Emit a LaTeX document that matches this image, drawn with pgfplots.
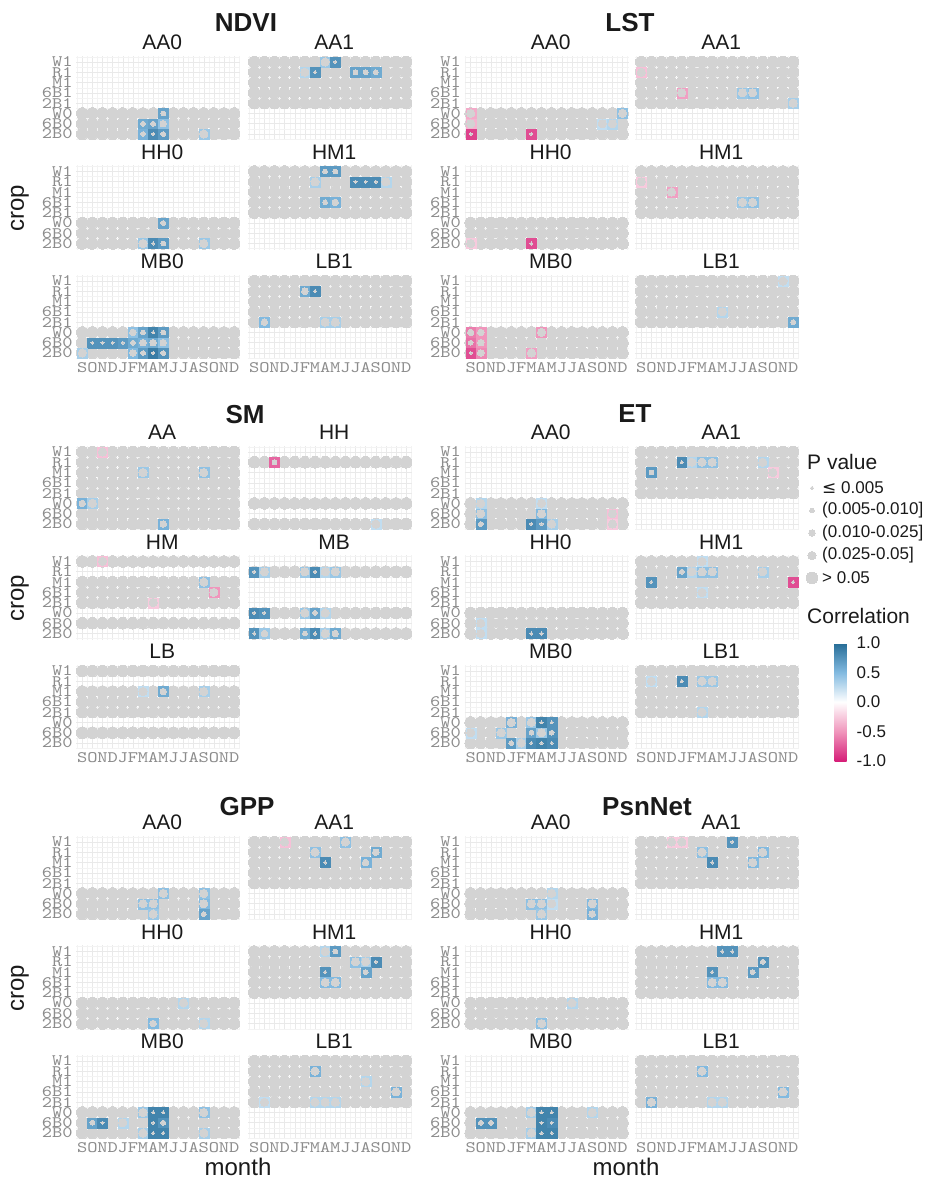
\documentclass[border=0pt]{standalone}
\usepackage{pgfplots}
\pgfplotsset{compat=1.18}
\usepackage{pgfplotstable}
\usepackage{fontspec}
\setmainfont{Liberation Sans}
\newfontfamily\dejavu{DejaVu Sans}
\newfontfamily\tickmono{lmmono10-regular.otf}[FakeStretch=1.22]
\definecolor{dotc}{RGB}{211,211,211}
\definecolor{gridmaj}{RGB}{233,233,233}
\definecolor{gridmin}{RGB}{243,243,243}
\definecolor{tickc}{RGB}{140,140,140}
\definecolor{titc}{RGB}{26,26,26}

\pgfplotsset{
  colormap={corr}{rgb255=(214,30,120) rgb255=(240,150,188) rgb255=(255,255,255) rgb255=(130,186,224) rgb255=(38,108,150)},
  panel/.style={
    scale only axis, width=164pt, height=84.4pt,
    xmin=0.4, xmax=16.6, ymin=0.4, ymax=8.6,
    axis line style={draw=none},
    major tick length=0pt, minor tick length=0pt, tick style={draw=none},
    xtick={1,...,16}, ytick={1,...,8},
    minor xtick={0.5,1.5,...,16.5}, minor ytick={0.5,1.5,...,8.5},
    grid=both,
    major grid style={line width=0.5pt, draw=gridmaj},
    minor grid style={line width=0.3pt, draw=gridmin},
    xticklabel={\empty}, yticklabel={\empty},
    colormap name=corr, point meta min=-1, point meta max=1,
    title style={at={(0.5,1)}, anchor=base, xshift=4pt, yshift=0pt, font=\fontsize{21}{21}\selectfont, text=titc, inner sep=0pt},
    yticklabel style={font=\fontsize{16}{16}\selectfont\tickmono, text=tickc, inner sep=0pt, xshift=-3.5pt},
    xticklabel style={font=\fontsize{16}{16}\selectfont\tickmono, text=tickc, inner sep=0pt, yshift=-3pt},
  },
  ylab/.style={yticklabels={2B0,6B0,W0,2B1,6B1,M1,R1,W1}},
  xlab/.style={xticklabels={S,O,N,D,J,F,M,A,M,J,J,A,S,O,N,D}},
  bigdot/.style={only marks, mark=*, mark size=5.8pt, color=dotc, mark options={draw=dotc, fill=dotc, line width=0pt}},
  tile/.style={scatter, only marks, mark=square*, mark size=5.0pt, point meta=\thisrow{r},
    scatter/use mapped color={draw=mapped color, fill=mapped color, line width=0.2pt}},
  smalldot/.style={scatter, only marks, mark=*, point meta=\thisrow{r}, color=dotc,
    scatter/use mapped color={draw=dotc, fill=dotc, line width=0pt},
    visualization depends on={0.7+0.85*\thisrow{p} \as \rad},
    scatter/@pre marker code/.append style={/tikz/mark size=\rad pt}},
}

\pgfplotstableread{
m k
1 0
2 0
3 0
4 0
5 0
6 0
7 0
8 0
9 0
10 0
11 0
12 0
13 0
14 0
15 0
16 0
}\monthtab

% ---------------- NDVI ----------------
\pgfplotstableread{
m y r p
9 3 0.65 2
7 2 0.60 2
8 2 0.65 2
9 2 0.45 3
7 1 0.55 2
8 1 0.80 1
9 1 0.70 2
13 1 0.40 4
}\tNa
\pgfplotstableread{
m y r p
8 8 0.40 4
9 8 0.75 1
6 7 0.30 4
7 7 0.75 1
11 7 0.65 2
12 7 0.65 2
13 7 0.60 2
}\tNb
\pgfplotstableread{
m y r p
9 3 0.65 2
7 1 0.40 4
8 1 0.80 1
9 1 0.70 2
13 1 0.40 4
}\tNc
\pgfplotstableread{
m y r p
8 8 0.70 2
9 8 0.70 2
7 7 0.35 4
11 7 0.80 1
12 7 0.80 1
13 7 0.80 1
14 7 0.30 4
8 5 0.60 2
9 5 0.55 3
}\tNd
\pgfplotstableread{
m y r p
6 3 0.45 3
7 3 0.65 2
8 3 0.85 1
9 3 0.70 2
2 2 0.75 1
3 2 0.75 1
4 2 0.75 1
5 2 0.70 1
6 2 0.60 2
7 2 0.55 3
8 2 0.60 3
9 2 0.45 3
1 1 0.35 4
6 1 0.50 3
7 1 0.70 2
8 1 0.90 1
9 1 0.75 2
}\tNe
\pgfplotstableread{
m y r p
6 7 0.60 3
7 7 0.80 1
2 4 0.50 3
8 4 0.35 4
9 4 0.35 4
}\tNf
% ---------------- LST ----------------
\pgfplotstableread{
m y r p
1 3 -0.40 4
16 3 0.45 4
1 2 -0.35 4
14 2 0.25 4
15 2 0.30 4
1 1 -0.85 1
7 1 -0.80 1
}\tLa
\pgfplotstableread{
m y r p
1 7 -0.30 4
5 5 -0.45 4
11 5 0.40 4
12 5 0.45 4
16 4 0.35 4
}\tLb
\pgfplotstableread{
m y r p
1 1 -0.25 4
7 1 -0.80 1
}\tLc
\pgfplotstableread{
m y r p
1 7 -0.25 4
4 6 -0.45 4
11 5 0.40 4
12 5 0.45 4
}\tLd
\pgfplotstableread{
m y r p
1 3 -0.60 3
2 3 -0.50 3
8 3 -0.50 4
1 2 -0.65 2
2 2 -0.50 3
1 1 -0.80 1
2 1 -0.55 3
7 1 -0.45 4
}\tLe
\pgfplotstableread{
m y r p
15 8 0.25 4
9 5 0.30 4
16 4 0.60 2
}\tLf
% ---------------- SM ----------------
\pgfplotstableread{
m y r p
3 8 -0.30 4
7 6 0.40 4
13 6 0.45 4
1 3 0.55 3
2 3 0.35 4
9 1 0.55 3
}\tSa
\pgfplotstableread{
m y r p
3 7 -0.70 2
13 1 0.25 4
}\tSb
\pgfplotstableread{
m y r p
3 8 -0.30 4
13 6 0.45 4
14 5 -0.50 4
8 4 -0.25 4
}\tSc
\pgfplotstableread{
m y r p
1 7 0.75 1
2 7 0.35 4
6 7 0.40 4
7 7 0.80 1
8 7 0.30 4
9 7 0.40 4
1 3 0.80 1
2 3 0.75 1
6 3 0.40 4
7 3 0.65 2
8 3 0.30 4
1 1 0.75 1
2 1 0.40 3
6 1 0.60 2
7 1 0.80 1
8 1 0.35 4
9 1 0.60 3
}\tSd
\pgfplotstableread{
m y r p
7 6 0.25 4
9 6 0.60 3
13 6 0.35 4
}\tSe
% ---------------- ET ----------------
\pgfplotstableread{
m y r p
2 3 0.30 4
8 3 0.25 4
2 2 0.45 4
8 2 0.50 4
15 2 -0.30 4
2 1 0.70 2
7 1 0.80 1
8 1 0.70 1
9 1 0.35 4
15 1 -0.25 4
}\tEa
\pgfplotstableread{
m y r p
5 7 0.80 1
6 7 0.30 4
7 7 0.45 4
8 7 0.45 4
13 7 0.30 4
2 6 0.70 2
14 6 -0.25 4
}\tEb
\pgfplotstableread{
m y r p
2 2 0.25 4
2 1 0.25 4
7 1 0.80 1
8 1 0.80 1
}\tEc
\pgfplotstableread{
m y r p
7 8 0.25 4
5 7 0.65 2
6 7 0.30 4
7 7 0.45 4
8 7 0.45 4
13 7 0.35 4
2 6 0.75 1
16 6 -0.80 1
7 5 0.25 4
}\tEd
\pgfplotstableread{
m y r p
5 3 0.55 4
7 3 0.40 4
8 3 0.85 1
9 3 0.75 1
1 2 0.25 4
4 2 0.40 4
7 2 0.65 2
8 2 0.40 4
9 2 0.75 2
5 1 0.70 2
6 1 0.35 4
7 1 0.80 1
8 1 0.85 1
9 1 0.80 1
}\tEe
\pgfplotstableread{
m y r p
2 7 0.25 4
5 7 0.80 1
7 7 0.40 4
8 7 0.40 4
7 4 0.30 4
}\tEf
% ---------------- GPP ----------------
\pgfplotstableread{
m y r p
9 3 0.45 4
13 3 0.45 4
7 2 0.45 4
8 2 0.45 4
13 2 0.50 4
8 1 0.40 4
13 1 0.65 2
}\tGa
\pgfplotstableread{
m y r p
4 8 -0.30 4
10 8 0.45 4
7 7 0.45 4
13 7 0.60 3
8 6 0.80 1
12 6 0.55 3
}\tGb
\pgfplotstableread{
m y r p
11 3 0.30 4
8 1 0.50 3
13 1 0.30 4
}\tGc
\pgfplotstableread{
m y r p
8 8 0.30 4
9 8 0.70 2
11 7 0.45 4
12 7 0.35 4
13 7 0.80 1
8 6 0.75 1
12 6 0.65 2
8 5 0.50 4
9 5 0.50 4
}\tGd
\pgfplotstableread{
m y r p
7 3 0.40 4
8 3 0.85 1
9 3 0.85 1
13 3 0.45 4
2 2 0.65 2
3 2 0.80 1
5 2 0.30 4
8 2 0.85 1
9 2 0.75 2
7 1 0.35 4
8 1 0.85 1
9 1 0.85 1
13 1 0.35 4
}\tGe
\pgfplotstableread{
m y r p
7 7 0.55 4
12 6 0.30 4
15 5 0.55 4
2 4 0.25 4
7 4 0.30 4
8 4 0.30 4
9 4 0.30 4
}\tGf
% ---------------- PsnNet ----------------
\pgfplotstableread{
m y r p
9 3 0.30 4
7 2 0.45 4
8 2 0.45 4
9 2 0.25 4
13 2 0.50 4
8 1 0.40 4
13 1 0.55 3
}\tPa
\pgfplotstableread{
m y r p
4 8 -0.25 4
5 8 -0.25 4
10 8 0.75 1
7 7 0.45 4
13 7 0.50 4
8 6 0.80 1
12 6 0.50 4
}\tPb
\pgfplotstableread{
m y r p
11 3 0.30 4
8 1 0.45 4
}\tPc
\pgfplotstableread{
m y r p
9 8 0.75 1
10 8 0.75 1
13 7 0.75 2
8 6 0.75 1
12 6 0.70 2
8 5 0.50 4
9 5 0.50 4
}\tPd
\pgfplotstableread{
m y r p
7 3 0.35 4
8 3 0.85 1
9 3 0.85 1
13 3 0.30 4
2 2 0.75 2
3 2 0.75 2
8 2 0.85 1
9 2 0.80 1
7 1 0.35 4
8 1 0.85 1
9 1 0.85 1
}\tPe
\pgfplotstableread{
m y r p
7 7 0.50 4
15 5 0.50 4
2 4 0.55 4
8 4 0.30 4
9 4 0.30 4
}\tPf

\pgfplotstableread{
x y rad
812 -488 1.55
812 -510.5 2.4
812 -533 3.25
812 -555.5 4.1
812 -578 5.8
}\tLegend

% #1 left x, #2 bottom y (downwards), #3 title, #4 options, #5 rows, #6 table
\newcommand{\panel}[6]{%
  \begin{axis}[panel, at={(#1pt,-#2pt)}, anchor=south west, title={#3}, #4]
    \pgfplotsinvokeforeach{#5}{\addplot[bigdot] table[x=m, y expr=##1] {\monthtab};}
    \addplot[tile] table[x=m, y=y] {#6};
    \addplot[smalldot] table[x=m, y=y] {#6};
  \end{axis}}

\begin{document}
\begin{tikzpicture}
% ===== block 0 =====
\panel{76.2}{140.17}{AA0}{ylab}{1,2,3}{\tNa}
\panel{248.2}{140.17}{AA1}{}{4,5,6,7,8}{\tNb}
\panel{76.2}{249.67}{HH0}{ylab}{1,2,3}{\tNc}
\panel{248.2}{249.67}{HM1}{}{4,5,6,7,8}{\tNd}
\panel{76.2}{359.17}{MB0}{ylab,xlab}{1,2,3}{\tNe}
\panel{248.2}{359.17}{LB1}{xlab}{4,5,6,7,8}{\tNf}
\panel{464.6}{140.17}{AA0}{ylab}{1,2,3}{\tLa}
\panel{635.2}{140.17}{AA1}{}{4,5,6,7,8}{\tLb}
\panel{464.6}{249.67}{HH0}{ylab}{1,2,3}{\tLc}
\panel{635.2}{249.67}{HM1}{}{4,5,6,7,8}{\tLd}
\panel{464.6}{359.17}{MB0}{ylab,xlab}{1,2,3}{\tLe}
\panel{635.2}{359.17}{LB1}{xlab}{4,5,6,7,8}{\tLf}
% ===== block 1 =====
\panel{76.2}{530.17}{AA}{ylab}{1,2,3,4,5,6,7,8}{\tSa}
\panel{248.2}{530.17}{HH}{}{1,3,7}{\tSb}
\panel{76.2}{639.67}{HM}{ylab}{2,4,5,6,8}{\tSc}
\panel{248.2}{639.67}{MB}{}{1,3,7}{\tSd}
\panel{76.2}{749.17}{LB}{ylab,xlab}{2,4,5,6,8}{\tSe}
\panel{464.6}{530.17}{AA0}{ylab}{1,2,3}{\tEa}
\panel{635.2}{530.17}{AA1}{}{4,5,6,7,8}{\tEb}
\panel{464.6}{639.67}{HH0}{ylab}{1,2,3}{\tEc}
\panel{635.2}{639.67}{HM1}{}{4,5,6,7,8}{\tEd}
\panel{464.6}{749.17}{MB0}{ylab,xlab}{1,2,3}{\tEe}
\panel{635.2}{749.17}{LB1}{xlab}{4,5,6,7,8}{\tEf}
% ===== block 2 =====
\panel{76.2}{920.17}{AA0}{ylab}{1,2,3}{\tGa}
\panel{248.2}{920.17}{AA1}{}{4,5,6,7,8}{\tGb}
\panel{76.2}{1029.67}{HH0}{ylab}{1,2,3}{\tGc}
\panel{248.2}{1029.67}{HM1}{}{4,5,6,7,8}{\tGd}
\panel{76.2}{1139.17}{MB0}{ylab,xlab}{1,2,3}{\tGe}
\panel{248.2}{1139.17}{LB1}{xlab}{4,5,6,7,8}{\tGf}
\panel{464.6}{920.17}{AA0}{ylab}{1,2,3}{\tPa}
\panel{635.2}{920.17}{AA1}{}{4,5,6,7,8}{\tPb}
\panel{464.6}{1029.67}{HH0}{ylab}{1,2,3}{\tPc}
\panel{635.2}{1029.67}{HM1}{}{4,5,6,7,8}{\tPd}
\panel{464.6}{1139.17}{MB0}{ylab,xlab}{1,2,3}{\tPe}
\panel{635.2}{1139.17}{LB1}{xlab}{4,5,6,7,8}{\tPf}

% ===== group titles and axis titles =====
\begin{scope}[every node/.style={text=titc}]
\node[font=\bfseries\fontsize{26}{26}\selectfont] at (246pt,-23pt) {NDVI};
\node[font=\bfseries\fontsize{26}{26}\selectfont] at (630pt,-23pt) {LST};
\node[font=\bfseries\fontsize{26}{26}\selectfont] at (245pt,-415pt) {SM};
\node[font=\bfseries\fontsize{26}{26}\selectfont] at (635pt,-414pt) {ET};
\node[font=\bfseries\fontsize{26}{26}\selectfont] at (247pt,-807pt) {GPP};
\node[font=\bfseries\fontsize{26}{26}\selectfont] at (647pt,-807pt) {PsnNet};
\node[font=\fontsize{24}{24}\selectfont, rotate=90] at (20pt,-208pt) {crop};
\node[font=\fontsize{24}{24}\selectfont, rotate=90] at (20pt,-598pt) {crop};
\node[font=\fontsize{24}{24}\selectfont, rotate=90] at (20pt,-988pt) {crop};
\node[font=\fontsize{24}{24}\selectfont] at (238pt,-1167pt) {month};
\node[font=\fontsize{24}{24}\selectfont] at (626pt,-1167pt) {month};
\end{scope}

% ===== P value legend =====
\begin{axis}[hide axis, scale only axis, at={(800pt,-600pt)}, anchor=south west,
  width=126pt, height=160pt, xmin=800, xmax=926, ymin=-600, ymax=-440, clip=false]
\addplot[scatter, only marks, mark=*, point meta=y, color=dotc,
  scatter/use mapped color={draw=dotc, fill=dotc, line width=0pt},
  visualization depends on={\thisrow{rad} \as \rad},
  scatter/@pre marker code/.append style={/tikz/mark size=\rad pt}] table[x=x, y=y] {\tLegend};
\node[anchor=west, font=\fontsize{21}{21}\selectfont, text=titc, inner sep=0pt] at (axis cs:807,-462) {P value};
\node[anchor=west, font=\fontsize{17}{17}\selectfont, text=titc, inner sep=0pt] at (axis cs:822,-488) {{\dejavu ≤} 0.005};
\node[anchor=west, font=\fontsize{17}{17}\selectfont, text=titc, inner sep=0pt] at (axis cs:822,-510.5) {(0.005-0.010]};
\node[anchor=west, font=\fontsize{17}{17}\selectfont, text=titc, inner sep=0pt] at (axis cs:822,-533) {(0.010-0.025]};
\node[anchor=west, font=\fontsize{17}{17}\selectfont, text=titc, inner sep=0pt] at (axis cs:822,-555.5) {(0.025-0.05]};
\node[anchor=west, font=\fontsize{17}{17}\selectfont, text=titc, inner sep=0pt] at (axis cs:822,-578) {> 0.05};
\node[anchor=west, font=\fontsize{21}{21}\selectfont, text=titc, inner sep=0pt] at (axis cs:807,-616) {Correlation};
\end{axis}

% ===== colour bar =====
\begin{axis}[hide axis, scale only axis, at={(826pt,-761pt)}, anchor=south west,
  width=12pt, height=118pt, xmin=0, xmax=1, ymin=0, ymax=1,
  colormap name=corr, point meta min=-1, point meta max=1,
  colorbar, colorbar style={at={(parent axis.south west)}, anchor=south west, xshift=0pt,
    scale only axis, width=12pt, height=118pt,
    ytick={-1,-0.5,0,0.5,1}, yticklabels={-1.0,-0.5,0.0,0.5,1.0},
    yticklabel style={font=\fontsize{17}{17}\selectfont, text=titc, inner sep=0pt, xshift=10pt},
    axis line style={draw=none}, major tick length=0pt, tick style={draw=none}}]
\addplot[draw=none] coordinates {(0,0)};
\end{axis}

\pgfresetboundingbox
\path[use as bounding box] (0,0) rectangle (926pt,-1182pt);
\end{tikzpicture}
\end{document}
